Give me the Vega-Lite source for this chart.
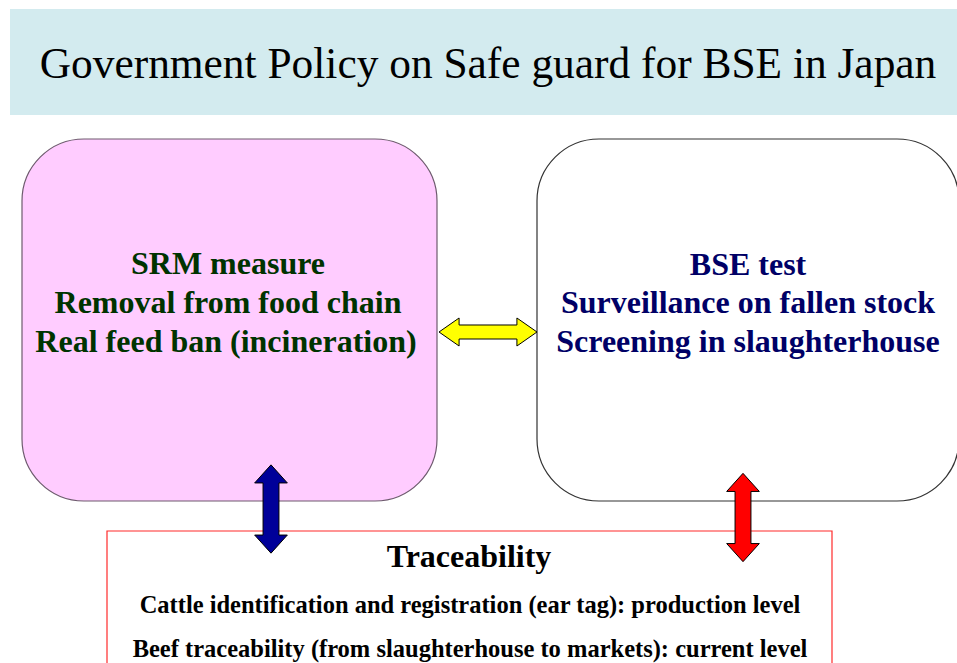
{
  "$schema": "https://vega.github.io/schema/vega-lite/v6.json",
  "width": 957,
  "height": 663,
  "padding": 0,
  "autosize": {"type": "none"},
  "background": "#ffffff",
  "config": {"view": {"stroke": null}},
  "resolve": {"scale": {"fill": "independent", "stroke": "independent", "color": "independent"}},
  "datasets": {
    "band": [{"x": 10, "x2": 957, "y": 9, "y2": 115}],
    "boxes": [
      {"name": "SRM", "x": 22, "x2": 437, "y": 139, "y2": 501},
      {"name": "BSE", "x": 537, "x2": 959, "y": 139, "y2": 501}
    ],
    "trace": [{"x": 107, "x2": 832, "y": 531, "y2": 700}],
    "harrow": [{"name": "link", "x": 488, "y": 332}],
    "varrow": [
      {"name": "SRM-trace", "x": 271, "y": 509},
      {"name": "BSE-trace", "x": 743, "y": 517.5}
    ],
    "texts": [
      {"role": "title", "group": "title", "x": 488, "y": 78, "label": "Government Policy on Safe guard for BSE in Japan"},
      {"role": "box", "group": "SRM", "x": 228, "y": 274, "label": "SRM measure"},
      {"role": "box", "group": "SRM", "x": 228, "y": 313, "label": "Removal from food chain"},
      {"role": "box", "group": "SRM", "x": 226, "y": 352, "label": "Real feed ban (incineration)"},
      {"role": "box", "group": "BSE", "x": 748, "y": 275, "label": "BSE test"},
      {"role": "box", "group": "BSE", "x": 748, "y": 313, "label": "Surveillance on fallen stock"},
      {"role": "box", "group": "BSE", "x": 748, "y": 352, "label": "Screening in slaughterhouse"},
      {"role": "head", "group": "trace", "x": 469, "y": 567, "label": "Traceability"},
      {"role": "line", "group": "trace", "x": 470, "y": 613, "label": "Cattle identification and registration (ear tag): production level"},
      {"role": "line", "group": "trace", "x": 470, "y": 657, "label": "Beef traceability (from slaughterhouse to markets): current level"}
    ]
  },
  "layer": [
    {
      "data": {"name": "band"},
      "mark": {"type": "rect", "fill": "#d3ebef", "stroke": null},
      "encoding": {
        "x": {"field": "x", "type": "quantitative", "scale": {"domain": [0, 957], "nice": false, "zero": false}, "axis": null},
        "x2": {"field": "x2"},
        "y": {"field": "y", "type": "quantitative", "scale": {"domain": [0, 663], "nice": false, "zero": false, "reverse": true}, "axis": null},
        "y2": {"field": "y2"}
      }
    },
    {
      "data": {"name": "boxes"},
      "mark": {"type": "rect", "cornerRadius": 62, "strokeWidth": 1.2, "clip": true},
      "encoding": {
        "x": {"field": "x", "type": "quantitative", "axis": null},
        "x2": {"field": "x2"},
        "y": {"field": "y", "type": "quantitative", "axis": null},
        "y2": {"field": "y2"},
        "fill": {"field": "name", "type": "nominal", "scale": {"domain": ["SRM", "BSE"], "range": ["#ffccff", "#ffffff"]}, "legend": null},
        "stroke": {"field": "name", "type": "nominal", "scale": {"domain": ["SRM", "BSE"], "range": ["#6e5a6e", "#333333"]}, "legend": null}
      }
    },
    {
      "data": {"name": "trace"},
      "mark": {"type": "rect", "fill": null, "fillOpacity": 0, "stroke": "#ff2a2a", "strokeWidth": 1.2, "clip": true},
      "encoding": {
        "x": {"field": "x", "type": "quantitative", "axis": null},
        "x2": {"field": "x2"},
        "y": {"field": "y", "type": "quantitative", "axis": null},
        "y2": {"field": "y2"}
      }
    },
    {
      "data": {"name": "harrow"},
      "mark": {"type": "point", "filled": true, "opacity": 1, "stroke": "#000000", "strokeWidth": 1, "size": 9604,
        "shape": "M -1 0 L -0.59 -0.286 L -0.59 -0.143 L 0.59 -0.143 L 0.59 -0.286 L 1 0 L 0.59 0.286 L 0.59 0.143 L -0.59 0.143 L -0.59 0.286 Z"},
      "encoding": {
        "x": {"field": "x", "type": "quantitative", "axis": null},
        "y": {"field": "y", "type": "quantitative", "axis": null},
        "fill": {"field": "name", "type": "nominal", "scale": {"domain": ["link"], "range": ["#ffff00"]}, "legend": null}
      }
    },
    {
      "data": {"name": "varrow"},
      "mark": {"type": "point", "filled": true, "opacity": 1, "stroke": "#000000", "strokeWidth": 1, "size": 7800,
        "shape": "M 0 -1 L 0.37 -0.59 L 0.18 -0.59 L 0.18 0.59 L 0.37 0.59 L 0 1 L -0.37 0.59 L -0.18 0.59 L -0.18 -0.59 L -0.37 -0.59 Z"},
      "encoding": {
        "x": {"field": "x", "type": "quantitative", "axis": null},
        "y": {"field": "y", "type": "quantitative", "axis": null},
        "fill": {"field": "name", "type": "nominal", "scale": {"domain": ["SRM-trace", "BSE-trace"], "range": ["#000099", "#ff0000"]}, "legend": null}
      }
    },
    {
      "data": {"name": "texts"},
      "transform": [{"filter": "datum.role === 'title'"}],
      "mark": {"type": "text", "font": "\"Liberation Serif\", \"Times New Roman\", serif", "fontSize": 43.4, "baseline": "alphabetic", "align": "center", "color": "#000000"},
      "encoding": {
        "x": {"field": "x", "type": "quantitative", "axis": null},
        "y": {"field": "y", "type": "quantitative", "axis": null},
        "text": {"field": "label"}
      }
    },
    {
      "data": {"name": "texts"},
      "transform": [{"filter": "datum.role === 'box'"}],
      "mark": {"type": "text", "font": "\"Liberation Serif\", \"Times New Roman\", serif", "fontWeight": "bold", "fontSize": 32, "baseline": "alphabetic", "align": "center"},
      "encoding": {
        "x": {"field": "x", "type": "quantitative", "axis": null},
        "y": {"field": "y", "type": "quantitative", "axis": null},
        "text": {"field": "label"},
        "color": {"field": "group", "type": "nominal", "scale": {"domain": ["SRM", "BSE"], "range": ["#003300", "#000066"]}, "legend": null}
      }
    },
    {
      "data": {"name": "texts"},
      "transform": [{"filter": "datum.role === 'head'"}],
      "mark": {"type": "text", "font": "\"Liberation Serif\", \"Times New Roman\", serif", "fontWeight": "bold", "fontSize": 32, "baseline": "alphabetic", "align": "center", "color": "#000000"},
      "encoding": {
        "x": {"field": "x", "type": "quantitative", "axis": null},
        "y": {"field": "y", "type": "quantitative", "axis": null},
        "text": {"field": "label"}
      }
    },
    {
      "data": {"name": "texts"},
      "transform": [{"filter": "datum.role === 'line'"}],
      "mark": {"type": "text", "font": "\"Liberation Serif\", \"Times New Roman\", serif", "fontWeight": "bold", "fontSize": 24.5, "baseline": "alphabetic", "align": "center", "color": "#000000"},
      "encoding": {
        "x": {"field": "x", "type": "quantitative", "axis": null},
        "y": {"field": "y", "type": "quantitative", "axis": null},
        "text": {"field": "label"}
      }
    }
  ]
}
